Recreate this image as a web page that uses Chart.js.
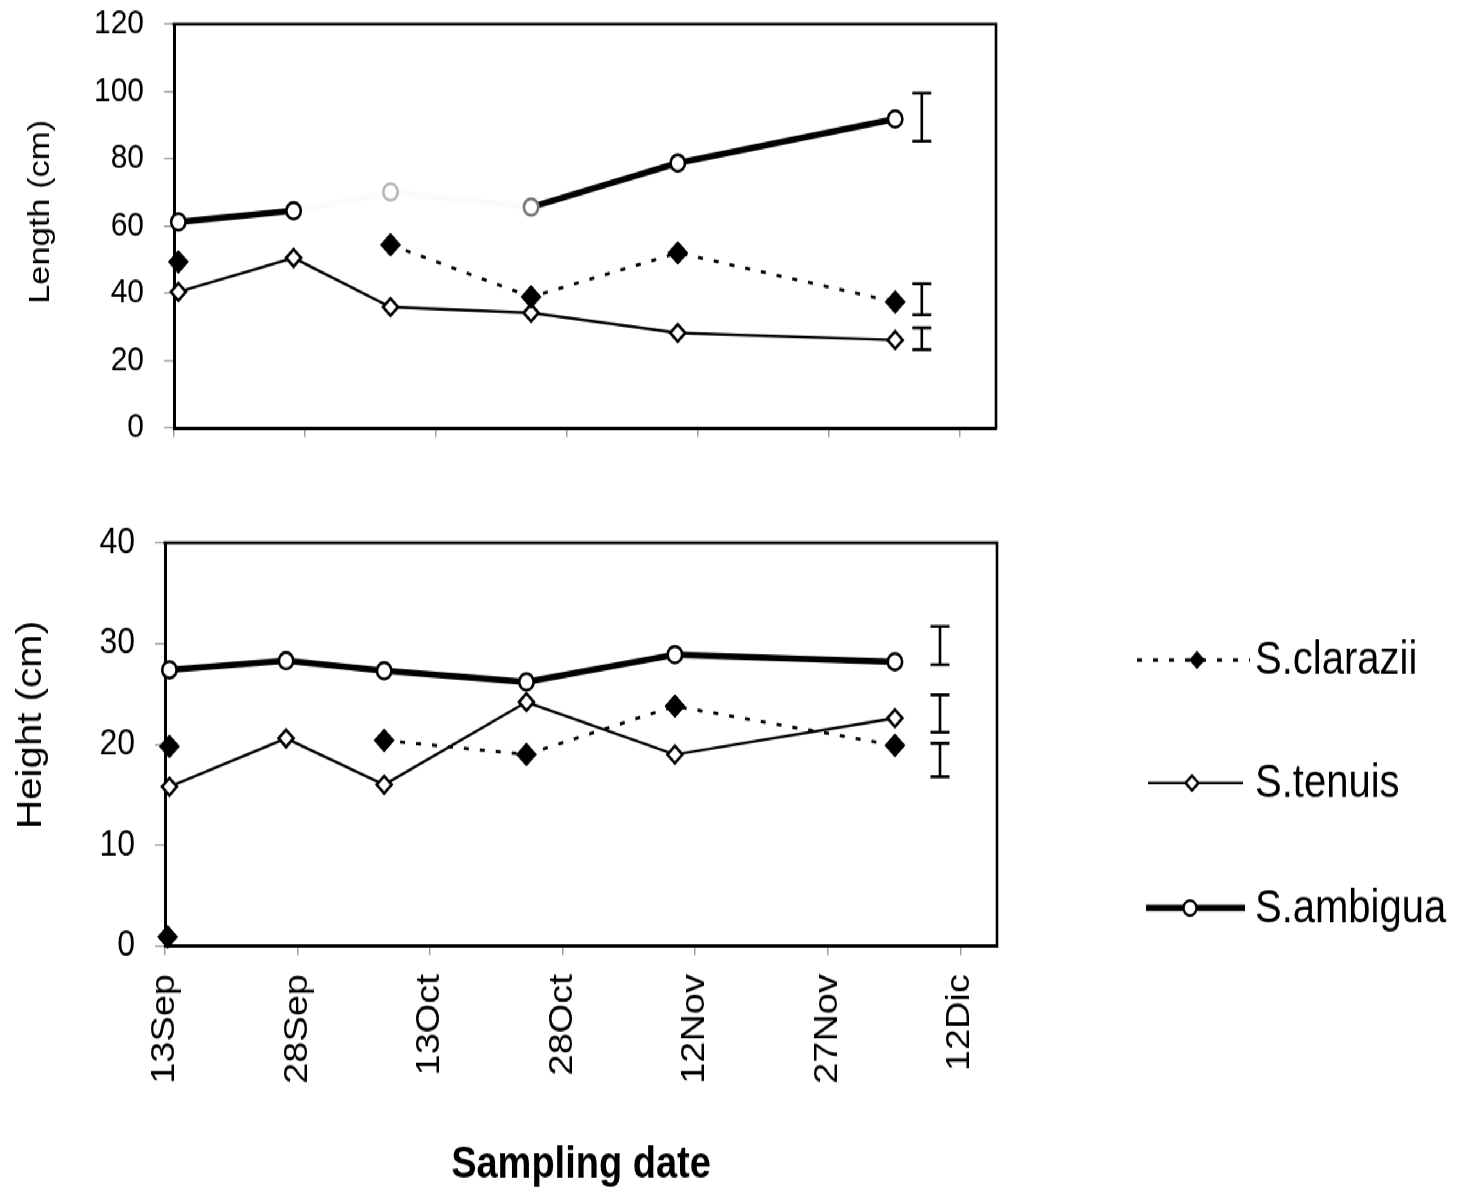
<!DOCTYPE html>
<html>
<head>
<meta charset="utf-8">
<script src="https://cdn.jsdelivr.net/npm/chart.js@4.4.1/dist/chart.umd.min.js"></script>
<style>
  html, body { margin: 0; padding: 0; background: #fff; overflow: hidden; width: 1457px; height: 1191px; }
  #wrap { position: absolute; left: 0; top: 0; width: 1457px; height: 1036px; transform: scaleY(1.15); transform-origin: 0 0; }
  #c1 { position: absolute; left: 0; top: 0; }
  #c2 { position: absolute; left: 0; top: 418px; }
</style>
</head>
<body>
<div id="wrap">
  <canvas id="c1" width="1457" height="418"></canvas>
  <canvas id="c2" width="1457" height="618"></canvas>
</div>
<script>
// ---------------- DATA ----------------
const seriesNames = ['S.clarazii', 'S.tenuis', 'S.ambigua'];
const tickDays = [0, 15, 30, 45, 60, 75, 90];            // days after 13 Sep
const tickLabels = ['13Sep', '28Sep', '13Oct', '28Oct', '12Nov', '27Nov', '12Dic'];
const samplingDays = [0.5, 13.7, 24.8, 40.9, 57.7, 82.6];

const lengthTicks = [0, 20, 40, 60, 80, 100, 120];
const lengthClarazii = [49.3, null, 54.4, 38.9, 52.0, 37.4];
const lengthTenuis   = [40.4, 50.5, 35.9, 34.2, 28.2, 26.1];
const lengthAmbigua  = [61.2, 64.5, 70.1, 65.6, 78.7, 91.8];
const lengthErrDay   = 85.65;
const lengthErrLow   = [33.6, 23.2, 85.2];   // clarazii, tenuis, ambigua
const lengthErrHigh  = [42.8, 29.7, 99.5];

const heightTicks = [0, 10, 20, 30, 40];
const heightClarazii = [19.8, null, 20.4, 19.0, 23.8, 19.9];
const heightClaraziiExtraDays = [0.3];
const heightClaraziiExtra     = [0.9];
const heightTenuis   = [15.8, 20.6, 16.0, 24.2, 19.0, 22.6];
const heightAmbigua  = [27.4, 28.3, 27.3, 26.2, 28.9, 28.2];
const heightErrDay   = 87.7;
const heightErrLow   = [16.8, 21.2, 27.9];
const heightErrHigh  = [20.1, 24.9, 31.7];

const yTitleTop = 'Length (cm)';
const yTitleBottom = 'Height (cm)';
const xTitle = 'Sampling date';

// ---------------- STYLE ----------------
Chart.defaults.font.family = "'Liberation Sans', Arial, Helvetica, sans-serif";
Chart.defaults.color = '#000';

const styles = [
  { borderColor: '#000', borderWidth: 2.8, borderDash: [5, 11], pointStyle: 'rectRot', pointRadius: 10,
    pointBackgroundColor: '#000', pointBorderColor: '#000', pointBorderWidth: 1 },
  { borderColor: '#000', borderWidth: 2.4, pointStyle: 'rectRot', pointRadius: 7.5,
    pointBackgroundColor: '#fff', pointBorderColor: '#000', pointBorderWidth: 2.6 },
  { borderColor: '#000', borderWidth: 5.5, pointStyle: 'circle', pointRadius: 7.2,
    pointBackgroundColor: '#fff', pointBorderColor: '#000', pointBorderWidth: 2.6 }
];

function pts(days, vals) { return days.map((d, i) => ({ x: d, y: vals[i] })); }

function makeDataset(idx, days, vals, extra) {
  return Object.assign({
    label: seriesNames[idx], data: pts(days, vals), tension: 0, spanGaps: false, clip: false,
    pointHoverRadius: 0
  }, styles[idx], extra || {});
}

function framePlugin() {
  return {
    id: 'frame',
    afterDatasetsDraw(chart) {
      const { ctx, chartArea: { left, right, top, bottom } } = chart;
      ctx.save();
      ctx.strokeStyle = '#000'; ctx.lineWidth = 2.6;
      ctx.beginPath();
      ctx.moveTo(left - 1.5, top); ctx.lineTo(right, top); ctx.lineTo(right, bottom + 1.5);
      ctx.stroke();
      ctx.restore();
    }
  };
}

function errorBarPlugin(day, lows, highs) {
  return {
    id: 'errorBars',
    afterDatasetsDraw(chart) {
      const ctx = chart.ctx, xs = chart.scales.x, ys = chart.scales.y;
      const px = xs.getPixelForValue(day), cap = 9.5;
      ctx.save();
      ctx.strokeStyle = '#000'; ctx.lineWidth = 2.6;
      lows.forEach((lo, i) => {
        const y1 = ys.getPixelForValue(lo), y2 = ys.getPixelForValue(highs[i]);
        ctx.beginPath();
        ctx.moveTo(px, y1); ctx.lineTo(px, y2);
        ctx.moveTo(px - cap, y1); ctx.lineTo(px + cap, y1);
        ctx.moveTo(px - cap, y2); ctx.lineTo(px + cap, y2);
        ctx.stroke();
      });
      ctx.restore();
    }
  };
}

function yTitlePlugin(text, x, y, size) {
  return {
    id: 'yTitle',
    afterDraw(chart) {
      const ctx = chart.ctx;
      ctx.save();
      ctx.translate(x, y); ctx.rotate(-Math.PI / 2);
      ctx.font = size + "px 'Liberation Sans', Arial, sans-serif";
      ctx.fillStyle = '#000'; ctx.textAlign = 'center'; ctx.textBaseline = 'middle';
      ctx.fillText(text, 0, 0);
      ctx.restore();
    }
  };
}

function legendPlugin(rowsY) {
  return {
    id: 'sideLegend',
    afterDraw(chart) {
      const ctx = chart.ctx;
      const geo = [
        { x0: 1137, x1: 1250, mx: 1197, r: 7.5 },
        { x0: 1148, x1: 1243, mx: 1192, r: 6.5 },
        { x0: 1146, x1: 1245, mx: 1190, r: 6.5 }
      ];
      ctx.save();
      seriesNames.forEach((name, i) => {
        const st = styles[i], g = geo[i], y = rowsY[i];
        ctx.strokeStyle = '#000';
        ctx.lineWidth = i === 2 ? 5.5 : (i === 0 ? 3 : 2.2);
        ctx.setLineDash(i === 0 ? [5, 11] : []);
        ctx.beginPath(); ctx.moveTo(g.x0, y); ctx.lineTo(g.x1, y); ctx.stroke();
        ctx.setLineDash([]);
        ctx.beginPath();
        if (st.pointStyle === 'circle') {
          ctx.arc(g.mx, y, g.r, 0, Math.PI * 2);
        } else {
          ctx.moveTo(g.mx - g.r, y); ctx.lineTo(g.mx, y - g.r);
          ctx.lineTo(g.mx + g.r, y); ctx.lineTo(g.mx, y + g.r); ctx.closePath();
        }
        ctx.fillStyle = st.pointBackgroundColor; ctx.fill();
        ctx.lineWidth = i === 0 ? 1 : 2.4; ctx.stroke();
        ctx.fillStyle = '#000';
        ctx.font = "40px 'Liberation Sans', Arial, sans-serif";
        ctx.textAlign = 'left'; ctx.textBaseline = 'middle';
        ctx.fillText(name, 1255, y + 1);
      });
      ctx.restore();
    }
  };
}

function panel(canvas, cfg) {
  return new Chart(canvas, {
    type: 'line',
    data: { datasets: cfg.datasets },
    options: {
      responsive: false, animation: false, events: [],
      layout: { autoPadding: false, padding: { left: 0, right: cfg.padRight, top: cfg.padTop, bottom: 0 } },
      plugins: { legend: { display: false }, tooltip: { enabled: false } },
      scales: {
        x: {
          type: 'linear', min: 0, max: 94.15,
          afterBuildTicks: s => { s.ticks = tickDays.map(v => ({ value: v })); },
          afterFit: s => { s.height = cfg.xHeight; },
          border: { display: true, color: '#000', width: 3 },
          grid: { drawOnChartArea: false, color: '#a0a0a0', tickLength: 8, lineWidth: 1.5 },
          ticks: {
            display: cfg.showXLabels, autoSkip: false, minRotation: 90, maxRotation: 90,
            padding: 16.5, font: { size: 33 }, color: '#000',
            callback: v => { const k = tickDays.indexOf(v); return k >= 0 ? tickLabels[k] : ''; }
          },
          title: cfg.showXLabels
            ? { display: true, text: xTitle, color: '#000', font: { size: 38, weight: 'bold' }, padding: { top: 0, bottom: 0 } }
            : { display: false }
        },
        y: {
          min: 0, max: cfg.yTicks[cfg.yTicks.length - 1],
          afterBuildTicks: s => { s.ticks = cfg.yTicks.map(v => ({ value: v })); },
          afterFit: s => { s.width = cfg.yWidth; s.paddingTop = 0; s.paddingBottom = 0; },
          border: { display: true, color: '#000', width: 3 },
          grid: { drawOnChartArea: false, color: '#a0a0a0', tickLength: 10, lineWidth: 1.5 },
          ticks: { padding: cfg.yPad, font: { size: cfg.yFont }, color: '#000' }
        }
      }
    },
    plugins: cfg.plugins
  });
}

// faded (scan) segments of the top S.ambigua line
const fadedSegments = [1, 2];

panel(document.getElementById('c1'), {
  padRight: 1457 - 996, padTop: 21, xHeight: 46, yWidth: 174, yFont: 30, yPad: 20,
  showXLabels: false, yTicks: lengthTicks,
  datasets: [
    makeDataset(0, samplingDays, lengthClarazii),
    makeDataset(1, samplingDays, lengthTenuis),
    makeDataset(2, samplingDays, lengthAmbigua, {
      segment: { borderColor: c => fadedSegments.includes(c.p0DataIndex) ? '#fbfbfb' : undefined },
      pointBorderColor: ['#000', '#000', '#b8b8b8', '#7a7a7a', '#000', '#000']
    })
  ],
  plugins: [framePlugin(), errorBarPlugin(lengthErrDay, lengthErrLow, lengthErrHigh),
            yTitlePlugin(yTitleTop, 41, 184.3, 30)]
});

panel(document.getElementById('c2'), {
  padRight: 1457 - 997, padTop: 54, xHeight: 213.4, yWidth: 165, yFont: 32, yPad: 20,
  showXLabels: true, yTicks: heightTicks,
  datasets: [
    makeDataset(0, samplingDays, heightClarazii),
    makeDataset(1, samplingDays, heightTenuis),
    makeDataset(2, samplingDays, heightAmbigua),
    makeDataset(0, heightClaraziiExtraDays, heightClaraziiExtra, { showLine: false })
  ],
  plugins: [framePlugin(), errorBarPlugin(heightErrDay, heightErrLow, heightErrHigh),
            yTitlePlugin(yTitleBottom, 31, 212.4, 35), legendPlugin([155.9, 262.9, 371.6])]
});
</script>
</body>
</html>
